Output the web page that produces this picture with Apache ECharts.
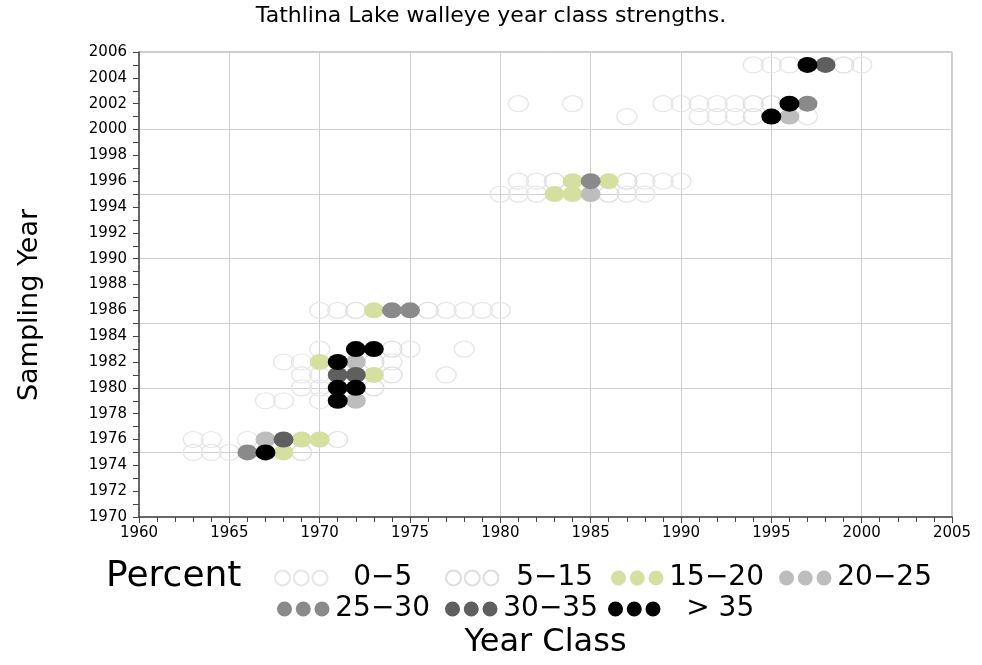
<!DOCTYPE html>
<html>
<head>
<meta charset="utf-8">
<script src="https://cdn.jsdelivr.net/npm/echarts@6/dist/echarts.min.js"></script>
<style>html,body{margin:0;padding:0;background:#fff}#c{width:982px;height:665px}</style>
</head>
<body>
<div id="c"></div>
<script>
// [year class, sampling year] pairs per percent category
const pct0to5 = [
  [1994,2005],[1995,2005],[1996,2005],[2000,2005],
  [1981,2002],[1984,2002],[1989,2002],[1990,2002],[1991,2002],[1992,2002],[1993,2002],
  [1987,2001],[1991,2001],[1992,2001],[1993,2001],[1997,2001],
  [1981,1996],[1982,1996],[1988,1996],[1989,1996],[1990,1996],
  [1980,1995],[1981,1995],[1982,1995],[1987,1995],[1988,1995],
  [1970,1986],[1971,1986],[1977,1986],[1978,1986],[1979,1986],[1980,1986],
  [1970,1983],[1975,1983],[1978,1983],
  [1968,1982],[1969,1982],[1974,1982],
  [1969,1981],[1970,1981],[1977,1981],
  [1969,1980],[1970,1980],
  [1967,1979],[1968,1979],[1970,1979],
  [1963,1976],[1964,1976],[1966,1976],
  [1963,1975],[1964,1975],[1965,1975]
];
const pct5to15 = [
  [1999,2005],[1994,2002],[1995,2002],[1994,2001],
  [1983,1996],[1987,1996],[1986,1995],
  [1972,1986],[1976,1986],[1974,1983],[1973,1982],[1974,1981],[1973,1980],
  [1971,1976],[1969,1975]
];
const pct15to20 = [[1984,1996],[1986,1996],[1983,1995],[1984,1995],[1973,1986],[1970,1982],[1973,1981],[1969,1976],[1970,1976],[1968,1975]];
const pct20to25 = [[1996,2001],[1985,1995],[1972,1982],[1972,1979],[1967,1976]];
const pct25to30 = [[1997,2002],[1985,1996],[1974,1986],[1975,1986],[1966,1975]];
const pct30to35 = [[1998,2005],[1971,1981],[1972,1981],[1968,1976]];
const pctOver35 = [[1997,2005],[1996,2002],[1995,2001],[1972,1983],[1973,1983],[1971,1982],[1971,1980],[1972,1980],[1971,1979],[1967,1975]];

const categoryNames = ['0\u22125','5\u221215','15\u221220','20\u221225','25\u221230','30\u221235','> 35'];
const categoryData = [pct0to5,pct5to15,pct15to20,pct20to25,pct25to30,pct30to35,pctOver35];
const xTicks = {min:1960, max:2005, step:5};
const yTicks = {min:1970, max:2006, step:2};

const FONT = 'DejaVu Sans';
const fills = ['rgba(0,0,0,0)','rgba(0,0,0,0)','#d5dfa0','#bdbdbd','#8a8a8a','#5f5f5f','#000000'];
const borders = ['#e6e6e6','#dedede','#d5dfa0','#bdbdbd','#8a8a8a','#5f5f5f','#000000'];
const icon3 = 'path://M0,8a8,8 0 1,0 16,0a8,8 0 1,0 -16,0Z M20,8a8,8 0 1,0 16,0a8,8 0 1,0 -16,0Z M40,8a8,8 0 1,0 16,0a8,8 0 1,0 -16,0Z';

const series = categoryData.map((d,i)=>({
  name: categoryNames[i],
  type: 'scatter',
  data: d,
  symbol: 'circle',
  symbolSize: [20,16],
  z: i<2 ? 2 : 3,
  itemStyle: {color: fills[i], borderColor: borders[i], borderWidth: i<2 ? 1.3 : 0, opacity: 1},
  emphasis: {disabled: true},
  silent: true
}));

const legendPos = [
  {left:274, top:564, pad:20},
  {left:445, top:564, pad:12},
  {left:611, top:564, pad:0},
  {left:779, top:564, pad:0},
  {left:277, top:595, pad:0},
  {left:445, top:595, pad:0},
  {left:608, top:595, pad:20}
];
const legends = legendPos.map((p,i)=>({
  data:[categoryNames[i]], left:p.left, top:p.top, padding:0, itemWidth:54, itemHeight:15,
  icon: icon3, selectedMode:false,
  textStyle:{fontFamily:FONT, fontSize:28, color:'#000', padding:[0,0,0,p.pad]}
}));

// split-line colours: lines at 1970,1975,...,2005,2006 (no line at 2005)
const ySplitColors = ['#cfcfcf','#cfcfcf','#cfcfcf','#cfcfcf','#cfcfcf','#cfcfcf','#cfcfcf','rgba(0,0,0,0)','#cfcfcf'];
const plain = v => String(v);

const option = {
  animation:false,
  backgroundColor:'#fff',
  title:[
    {text:'Tathlina Lake walleye year class strengths.', left:'center', top:5, padding:0,
     textStyle:{fontFamily:FONT, fontSize:22, fontWeight:'normal', color:'#000'}},
    {text:'Percent', left:106, top:559, padding:0,
     textStyle:{fontFamily:FONT, fontSize:36, fontWeight:'normal', color:'#000'}}
  ],
  legend: legends,
  grid:{left:139, right:30, top:52, bottom:148, show:true, borderColor:'#999', borderWidth:1},
  xAxis:{
    type:'value', min:xTicks.min, max:xTicks.max, interval:xTicks.step,
    name:'Year Class', nameLocation:'middle', nameGap:110,
    nameTextStyle:{fontFamily:FONT, fontSize:32, color:'#000'},
    axisLine:{show:true, lineStyle:{color:'#444', width:1.5}},
    axisTick:{show:true, length:6, lineStyle:{color:'#444'}},
    minorTick:{show:true, splitNumber:5, length:5, lineStyle:{color:'#444'}},
    axisLabel:{fontFamily:FONT, fontSize:15, color:'#000', margin:9, formatter:plain},
    splitLine:{show:true, lineStyle:{color:'#cfcfcf', width:1}}
  },
  yAxis:[
    {type:'value', min:yTicks.min, max:yTicks.max, interval:yTicks.step,
     axisLine:{show:true, lineStyle:{color:'#444', width:1.5}},
     axisTick:{show:true, length:6, lineStyle:{color:'#444'}},
     minorTick:{show:true, splitNumber:2, length:6, lineStyle:{color:'#444'}},
     axisLabel:{fontFamily:FONT, fontSize:15, color:'#000', margin:12, formatter:plain},
     splitLine:{show:false}},
    {type:'value', min:1970, max:2006, interval:5, position:'left',
     axisLine:{show:false}, axisTick:{show:false}, axisLabel:{show:false},
     splitLine:{show:true, lineStyle:{color:ySplitColors, width:1}}}
  ],
  graphic:[
    {type:'text', x:30, y:305, rotation:Math.PI/2,
     style:{text:'Sampling Year', font:'27px "DejaVu Sans"', fill:'#000', align:'center', verticalAlign:'middle'}}
  ],
  series: series
};
echarts.init(document.getElementById('c')).setOption(option);
</script>
</body>
</html>
